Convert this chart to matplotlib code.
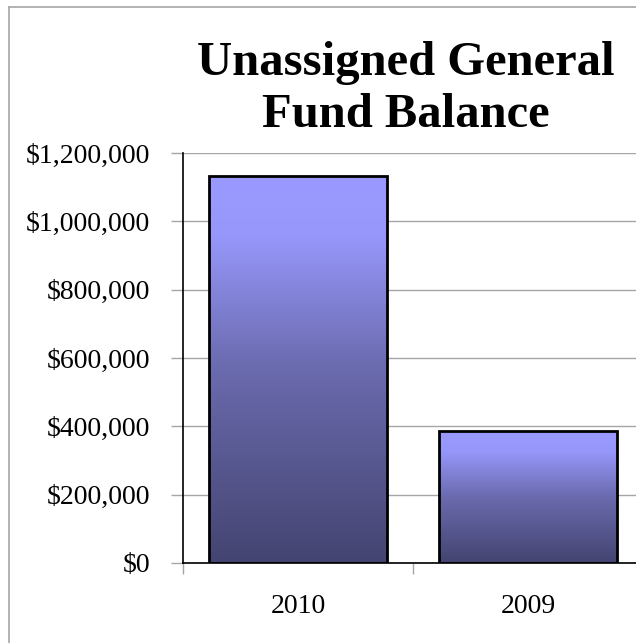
import matplotlib
matplotlib.use("Agg")
import matplotlib.pyplot as plt
import numpy as np
from matplotlib.colors import LinearSegmentedColormap
from matplotlib.ticker import FuncFormatter, FixedLocator, NullFormatter

categories = ["2010", "2009"]
values = [1132000, 386000]
title = "Unassigned General\nFund Balance"

W, H = 636, 643
fig = plt.figure(figsize=(W / 100, H / 100), dpi=100)
plt.rcParams['font.family'] = ['Liberation Serif', 'DejaVu Serif']

# axes in pixel coordinates
left, right, top, bottom = 183, 643, 153, 563
ax = fig.add_axes([left / W, 1 - bottom / H, (right - left) / W, (bottom - top) / H])

cmap = LinearSegmentedColormap.from_list(
    "grad", [(0.0, "#444471"), (0.5, "#6a6aae"), (0.85, "#9797fb"), (1.0, "#9999ff")])

x = np.arange(len(categories))
bars = ax.bar(x, values, width=0.774, color="none", edgecolor="black", linewidth=2, zorder=3)
grad = np.linspace(0, 1, 256).reshape(-1, 1)
for b in bars:
    bx, by = b.get_x(), b.get_y()
    bw, bh = b.get_width(), b.get_height()
    im = ax.imshow(grad, cmap=cmap, origin="lower", aspect="auto",
                   extent=[bx, bx + bw, by, by + bh], zorder=2)
    im.set_clip_path(b)

ax.set_xlim(-0.5, len(categories) - 0.5)
ax.set_ylim(0, 1200000)
ax.set_yticks(np.arange(0, 1200001, 200000))
ax.yaxis.set_major_formatter(FuncFormatter(lambda v, p: "${:,.0f}".format(v)))
ax.grid(axis="y", color="#a6a6a6", linewidth=1, zorder=0)
ax.set_axisbelow(True)

ax.xaxis.set_major_locator(FixedLocator(np.arange(-0.5, len(categories), 1.0)))
ax.xaxis.set_major_formatter(NullFormatter())
ax.xaxis.set_minor_locator(FixedLocator(x))
ax.set_xticklabels(categories, minor=True)
ax.tick_params(axis="x", which="minor", length=0, labelsize=20, pad=22)
ax.tick_params(axis="x", which="major", length=8, color="#a6a6a6", width=1)
ax.tick_params(axis="y", length=9, color="#a6a6a6", width=1, labelsize=20, pad=14.5)

for s in ["top", "right"]:
    ax.spines[s].set_visible(False)
ax.spines["left"].set_color("black")
ax.spines["bottom"].set_color("black")
ax.spines["left"].set_linewidth(1.2)
ax.spines["bottom"].set_linewidth(1.2)

fig.text(406 / W, 1 - 41 / H, title, ha="center", va="top", fontsize=35,
         fontweight="bold", linespacing=1.24)

# figure border
fig.add_artist(plt.Line2D([9 / W, 9 / W], [0, 1 - 7 / H], color="#a6a6a6", lw=1.2,
                          transform=fig.transFigure))
fig.add_artist(plt.Line2D([9 / W, 1], [1 - 7 / H, 1 - 7 / H], color="#a6a6a6", lw=1.2,
                          transform=fig.transFigure))

fig.savefig("out.png", dpi=100)
